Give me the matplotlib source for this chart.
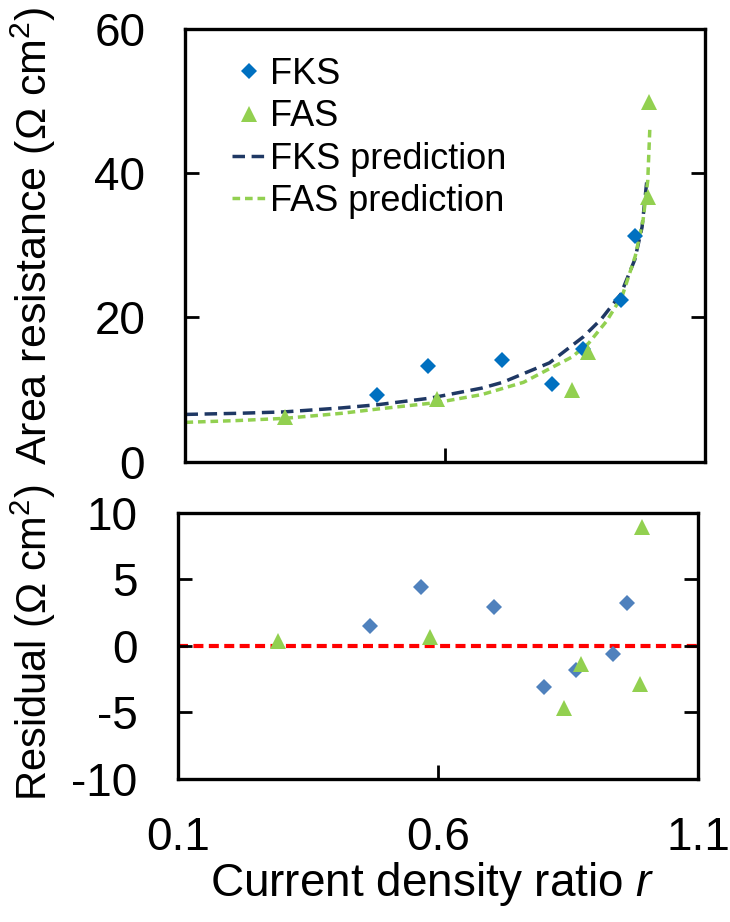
import matplotlib
matplotlib.use("Agg")
import matplotlib.pyplot as plt

plt.rcParams['font.family'] = ['Liberation Sans', 'DejaVu Sans']
plt.rcParams['mathtext.fontset'] = 'custom'
plt.rcParams['mathtext.rm'] = 'Liberation Sans'
plt.rcParams['mathtext.it'] = 'Liberation Sans:italic'
plt.rcParams['axes.unicode_minus'] = False

# measured area resistance vs current density ratio
fks_r = [0.469, 0.567, 0.708, 0.804, 0.865, 0.937, 0.964]
fks_res = [9.3, 13.2, 14.05, 10.7, 15.6, 22.35, 31.25]
fas_r = [0.292, 0.584, 0.843, 0.875, 0.989, 0.992]
fas_res = [6.15, 8.75, 10.0, 15.2, 36.7, 49.9]

# model predictions
fks_pred_r = [0.10, 0.20, 0.29, 0.40, 0.47, 0.57, 0.67, 0.71, 0.80, 0.865,
              0.90, 0.937, 0.964, 0.978, 0.988]
fks_pred = [6.55, 6.7, 6.9, 7.45, 7.9, 8.8, 10.2, 11.0, 13.7, 17.3,
            19.8, 23.2, 28.0, 32.5, 39.5]
fas_pred_r = [0.10, 0.20, 0.29, 0.40, 0.47, 0.584, 0.67, 0.75, 0.843, 0.875,
              0.91, 0.94, 0.965, 0.980, 0.989, 0.993]
fas_pred = [5.45, 5.7, 6.0, 6.7, 7.3, 8.2, 9.3, 11.0, 14.5, 16.4,
            19.5, 23.0, 28.5, 33.5, 39.0, 46.2]

# residuals (measured - predicted)
fks_resid = [1.5, 4.4, 2.95, -3.08, -1.83, -0.63, 3.25]
fas_resid = [0.33, 0.63, -4.68, -1.33, -2.83, 8.93]

xticks = [0.1, 0.6, 1.1]
top_yticks = [0, 20, 40, 60]
bot_yticks = [-10, -5, 0, 5, 10]

blue = '#0070C0'
blue_light = '#4F81BD'
green = '#92D050'
navy = '#1F3864'

fig = plt.figure(figsize=(7.3, 9.22), dpi=100)
ax1 = fig.add_axes([0.2541, 0.4993, 0.7123, 0.4693])
ax2 = fig.add_axes([0.2438, 0.1551, 0.7123, 0.2888])

ax1.plot(fks_r, fks_res, 'D', color=blue, ms=8.6, mew=0, label='FKS', zorder=3)
ax1.plot(fas_r, fas_res, '^', color=green, ms=12, mew=0, label='FAS', zorder=3)
ax1.plot(fks_pred_r, fks_pred, color=navy, lw=2.5, ls=(0, (3.6, 1.9)),
         label='FKS prediction', zorder=2)
ax1.plot(fas_pred_r, fas_pred, color=green, lw=2.5, ls=(0, (2.2, 1.4)),
         label='FAS prediction', zorder=2)

ax2.axhline(0, color='#FF0000', lw=3, ls=(0, (2.4, 1.3)), zorder=1)
ax2.plot(fks_r, fks_resid, 'D', color=blue_light, ms=8.6, mew=0, zorder=3)
ax2.plot(fas_r, fas_resid, '^', color=green, ms=12, mew=0, zorder=3)

for ax in (ax1, ax2):
    ax.set_xlim(0.1, 1.1)
    ax.set_xticks(xticks)
    for s in ax.spines.values():
        s.set_linewidth(2.4)
    ax.tick_params(direction='in', length=10, width=2, labelsize=33,
                   top=False, right=True, pad=29)

ax1.set_ylim(0, 60)
ax1.set_yticks(top_yticks)
ax1.tick_params(axis='x', labelbottom=False)

ax2.set_ylim(-10, 10)
ax2.set_yticks(bot_yticks)
ax2.set_xticklabels(['0.1', '0.6', '1.1'])
ax2.tick_params(axis='x', pad=27)

fig.text(33 / 730, 1 - 236 / 922, 'Area resistance (Ω cm$^2$)', rotation=90,
         ha='center', va='center', fontsize=31)
fig.text(33 / 730, 1 - 643 / 922, 'Residual (Ω cm$^2$)', rotation=90,
         ha='center', va='center', fontsize=30)
fig.text(432 / 730, 1 - 884 / 922, 'Current density ratio $r$',
         ha='center', va='center', fontsize=33)

ax1.legend(loc='upper left', bbox_to_anchor=(0.09, 0.935), frameon=False,
           fontsize=26, handlelength=0.95, handletextpad=0.1,
           labelspacing=0.2, borderpad=0, borderaxespad=0)

fig.savefig('out.png', dpi=100)
